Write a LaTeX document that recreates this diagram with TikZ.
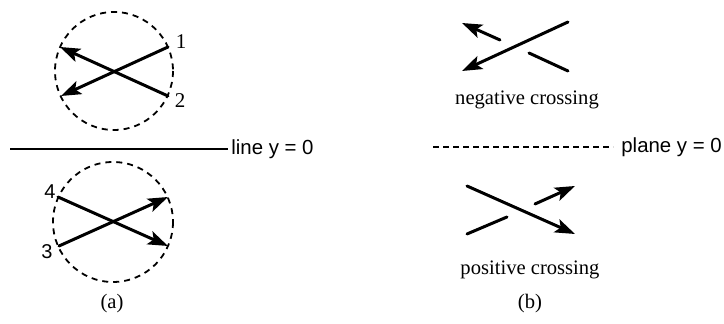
\documentclass[tikz,border=0pt]{standalone}
\usepackage{fontspec}
\setmainfont{Liberation Serif}
\setsansfont{Liberation Sans}
\usetikzlibrary{arrows.meta}

\begin{document}
\begin{tikzpicture}[x=.5pt,y=-.5pt,
    strand/.style={line width=1.5pt,line cap=round},
    arr/.style={strand,-{Stealth[length=10pt,width=7pt,inset=2.2pt]}},
    rim/.style={line width=.9pt,dash pattern=on 3pt off 2.5pt},
    lbl/.style={font=\sffamily\fontsize{10.2}{12}\selectfont,inner sep=0pt,anchor=west},
    captxt/.style={font=\fontsize{10.3}{12}\selectfont,inner sep=0pt},
    num/.style={font=\fontsize{10.5}{12}\selectfont,inner sep=0pt}]
    \useasboundingbox (0,0) rectangle (724,324);

    % (a) two crossings seen inside dashed circles
    \draw[rim] (114,71) circle (59);
    \coordinate (e1) at (168,47);
    \coordinate (e2) at (168,96);
    \coordinate (t1) at (60,47);
    \coordinate (t2) at (61,96);
    \draw[arr] (e1)--(t2);
    \draw[arr] (e2)--(t1);
    \node[num] (n1) at (181,42) {1};
    \node[num] (n2) at (180,101) {2};

    \node[lbl] (liney) at (231,149) {line y = 0};
    \coordinate (l0) at (10,149);
    \draw[line width=.9pt] (l0)--([xshift=-1.5pt]liney.west);

    \draw[rim] (113,222) circle (60);
    \coordinate (e4) at (58,197);
    \coordinate (e3) at (59,246);
    \coordinate (t4) at (168,246);
    \coordinate (t3) at (168,197);
    \draw[arr] (e4)--(t4);
    \draw[arr] (e3)--(t3);
    \node[num,font=\sffamily\fontsize{10}{12}\selectfont] (n4) at (50,192) {4};
    \node[num,font=\sffamily\fontsize{10}{12}\selectfont] (n3) at (47,252) {3};

    \node[captxt] (capa) at (112,304) {(a)};

    % (b) negative and positive crossing
    \coordinate (na) at (568,22);
    \coordinate (nb) at (462,71);
    \coordinate (nc) at (568,71);
    \coordinate (nd) at (529,53);
    \coordinate (ne) at (500,40);
    \coordinate (nf) at (462,23);
    \draw[arr] (na)--(nb);
    \draw[strand] (nc)--(nd);
    \draw[arr] (ne)--(nf);
    \node[captxt] (neg) at (527,100) {negative crossing};

    \node[lbl] (planey) at (621,147) {plane y = 0};
    \coordinate (p0) at (433,147);
    \draw[line width=1.1pt,dash pattern=on 3pt off 2pt] (p0)--([xshift=-4pt]planey.west);

    \coordinate (pa) at (467,186);
    \coordinate (pb) at (575,234);
    \coordinate (pc) at (467,234);
    \coordinate (pd) at (507,217);
    \coordinate (pe) at (535,204);
    \coordinate (pf) at (575,186);
    \draw[arr] (pa)--(pb);
    \draw[strand] (pc)--(pd);
    \draw[arr] (pe)--(pf);
    \node[captxt] (pos) at (530,270) {positive crossing};

    \node[captxt] (capb) at (530,304) {(b)};
\end{tikzpicture}
\end{document}
